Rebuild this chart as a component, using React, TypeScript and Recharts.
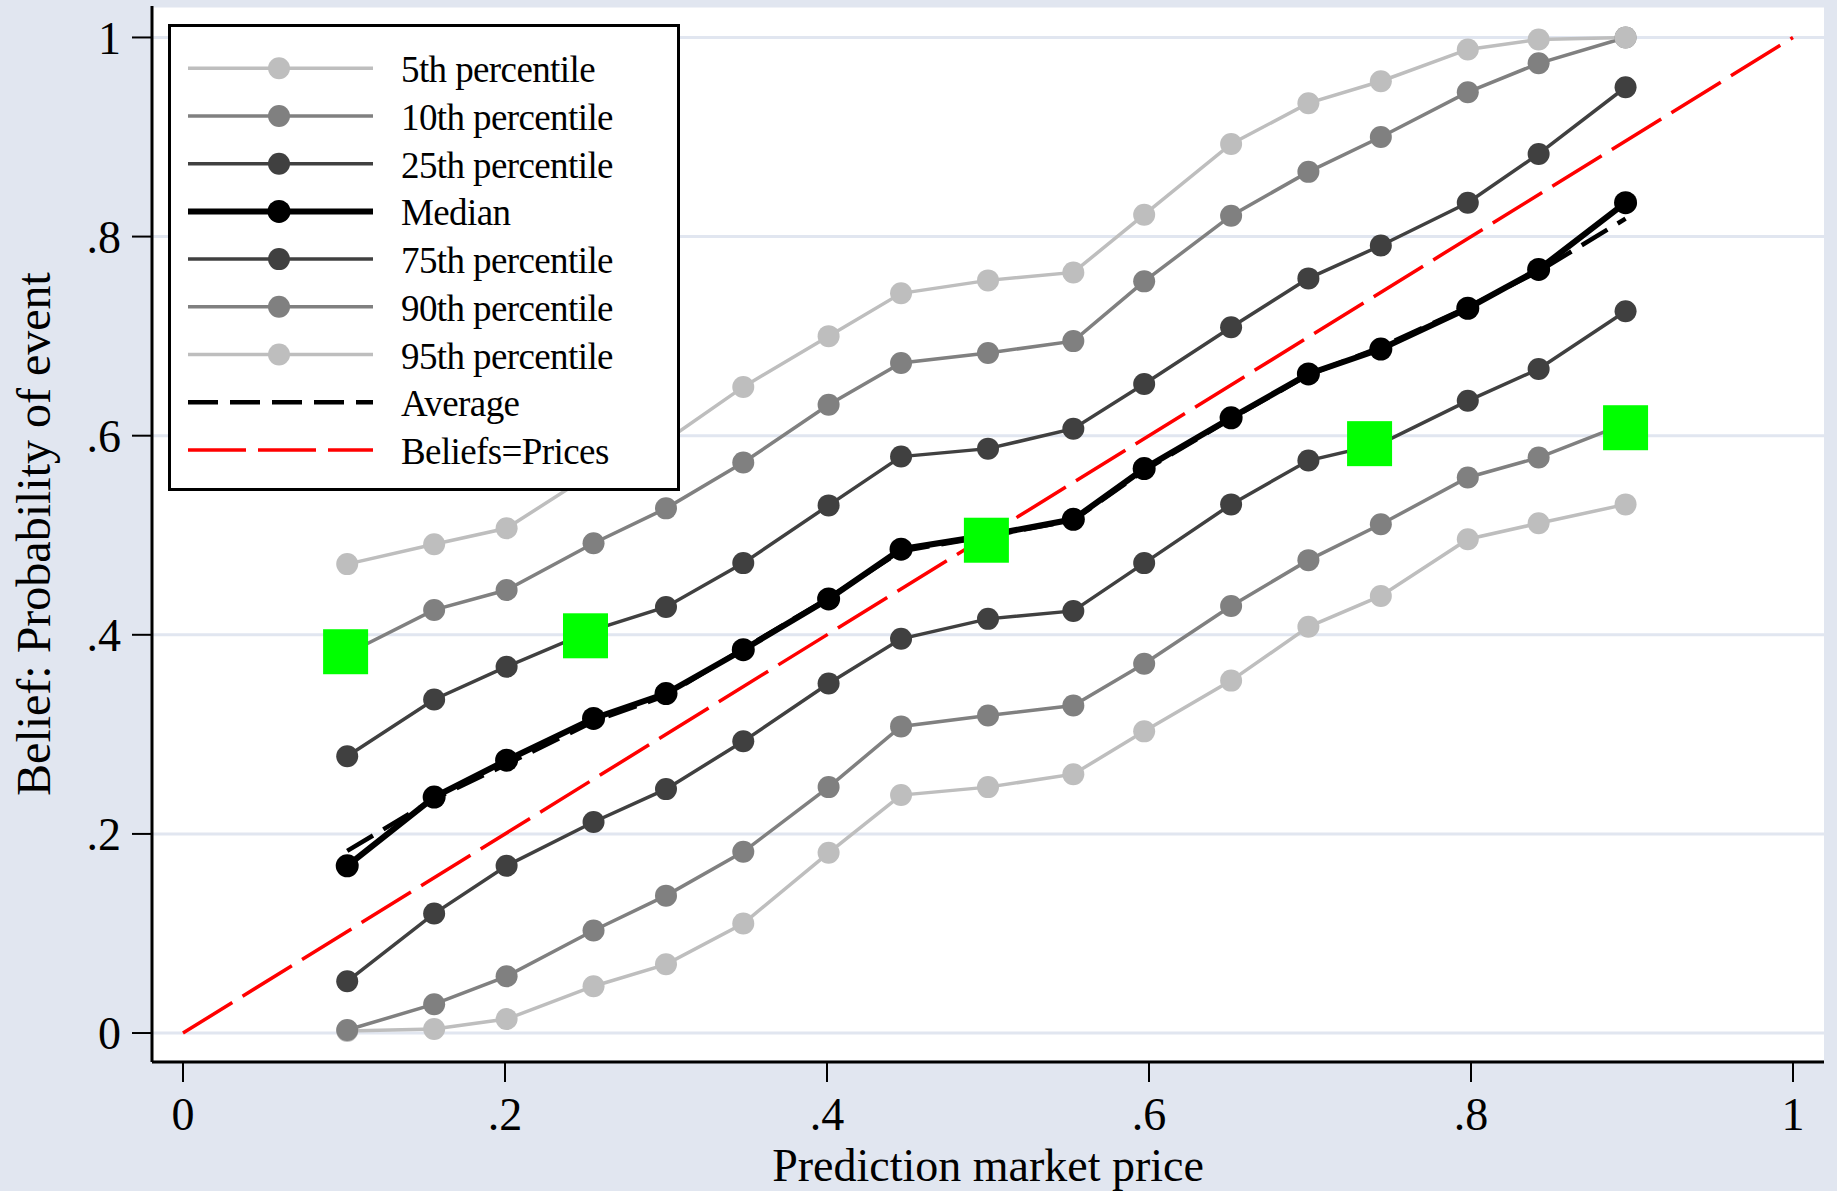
import React from 'react';
import { ComposedChart, Line, XAxis, YAxis, CartesianGrid, Legend } from 'recharts';

// ---- data ----
const prices = [0.102, 0.156, 0.201, 0.255, 0.3, 0.348, 0.401, 0.446, 0.5, 0.553, 0.597, 0.651, 0.699, 0.744, 0.798, 0.842, 0.896];
const p5 = [0.002, 0.004, 0.014, 0.047, 0.069, 0.11, 0.181, 0.239, 0.247, 0.26, 0.303, 0.354, 0.408, 0.439, 0.496, 0.512, 0.531];
const p10 = [0.003, 0.029, 0.057, 0.103, 0.138, 0.182, 0.247, 0.308, 0.319, 0.329, 0.371, 0.429, 0.475, 0.511, 0.558, 0.578, 0.612];
const p25 = [0.052, 0.12, 0.168, 0.212, 0.245, 0.293, 0.351, 0.396, 0.416, 0.424, 0.472, 0.531, 0.575, 0.592, 0.635, 0.667, 0.725];
const median = [0.168, 0.237, 0.274, 0.316, 0.341, 0.385, 0.436, 0.486, 0.5, 0.516, 0.567, 0.618, 0.662, 0.687, 0.728, 0.767, 0.834];
const p75 = [0.278, 0.335, 0.368, 0.405, 0.428, 0.472, 0.53, 0.579, 0.587, 0.607, 0.652, 0.709, 0.758, 0.791, 0.834, 0.883, 0.95];
const p90 = [0.381, 0.425, 0.445, 0.492, 0.527, 0.573, 0.631, 0.673, 0.683, 0.695, 0.755, 0.821, 0.865, 0.9, 0.945, 0.974, 1.0];
const p95 = [0.471, 0.491, 0.507, 0.563, 0.595, 0.649, 0.7, 0.743, 0.756, 0.764, 0.822, 0.893, 0.934, 0.956, 0.988, 0.998, 1.0];
const average = [0.183, 0.235, 0.27, 0.313, 0.339, 0.386, 0.437, 0.484, 0.499, 0.515, 0.565, 0.617, 0.661, 0.689, 0.729, 0.765, 0.818];
const squareX = [0.101, 0.25, 0.499, 0.737, 0.896];
const squareY = [0.383, 0.399, 0.495, 0.592, 0.608];
const diagX = [0, 1];
const diagY = [0, 1];
const axisTicks = [0, 0.2, 0.4, 0.6, 0.8, 1];
const tickLabels = ['0', '.2', '.4', '.6', '.8', '1'];

// ---- styles ----
const BG = '#e1e6f0';
const LIGHT = '#bebebe';
const MID = '#808080';
const DARK = '#404040';
const FONT = '"Liberation Serif", "Times New Roman", serif';

const toPoints = (xs: number[], ys: number[]) => xs.map((x, i) => ({ x, y: ys[i] }));

type Series = { name: string; values: number[]; color: string; width: number; r: number };
const pctSeries: Series[] = [
  { name: '5th percentile', values: p5, color: LIGHT, width: 3.5, r: 11 },
  { name: '10th percentile', values: p10, color: MID, width: 3.5, r: 11 },
  { name: '25th percentile', values: p25, color: DARK, width: 3.5, r: 11 },
  { name: 'Median', values: median, color: '#000000', width: 6, r: 11.5 },
  { name: '75th percentile', values: p75, color: DARK, width: 3.5, r: 11 },
  { name: '90th percentile', values: p90, color: MID, width: 3.5, r: 11 },
  { name: '95th percentile', values: p95, color: LIGHT, width: 3.5, r: 11 },
];

const fmt = (v: number) => {
  const i = axisTicks.findIndex((t) => Math.abs(t - v) < 1e-9);
  return i >= 0 ? tickLabels[i] : String(v);
};

const SquareMarker = (props: any) => {
  const { cx, cy, index } = props;
  if (cx == null || cy == null) return <g key={`sq-${index}`} />;
  return <rect key={`sq-${index}`} x={cx - 22.5} y={cy - 22.5} width={45} height={45} fill="#00ff00" />;
};

const YTitle = (props: any) => {
  const vb = props.viewBox || { x: 0, y: 6, width: 152, height: 1056 };
  const x = vb.x + 50;
  const y = vb.y + vb.height / 2;
  return (
    <text x={x} y={y} transform={`rotate(-90, ${x}, ${y})`} textAnchor="middle" fontSize={48} fontFamily={FONT} fill="#000">
      Belief: Probability of event
    </text>
  );
};

const XTitle = (props: any) => {
  const vb = props.viewBox || { x: 152, y: 1062, width: 1672, height: 129 };
  const x = vb.x + vb.width / 2;
  const y = vb.y + vb.height - 10;
  return (
    <text x={x} y={y} textAnchor="middle" fontSize={46} fontFamily={FONT} fill="#000">
      Prediction market price
    </text>
  );
};

type LegendItem = { label: string; color: string; width: number; r?: number; dash?: string };
const legendItems: LegendItem[] = [
  ...pctSeries.map((s) => ({ label: s.name, color: s.color, width: s.name === 'Median' ? 6 : 3.5, r: s.r })),
  { label: 'Average', color: '#000000', width: 4.5, dash: '30 12' },
  { label: 'Beliefs=Prices', color: '#ff0000', width: 3.5, dash: '58 12' },
];

const LegendBox = () => (
  <svg width={512} height={467} style={{ display: 'block' }}>
    <rect x={1.5} y={1.5} width={509} height={464} fill="#ffffff" stroke="#000" strokeWidth={3} />
    {legendItems.map((it, i) => {
      const cy = 44.3 + i * 47.7;
      return (
        <g key={it.label}>
          <line x1={20} y1={cy} x2={205} y2={cy} stroke={it.color} strokeWidth={it.width} strokeDasharray={it.dash} />
          {it.r ? <circle cx={111} cy={cy} r={it.r} fill={it.color} /> : null}
          <text x={233} y={cy + 14} fontSize={37} fontFamily={FONT} fill="#000" letterSpacing={-0.6}>
            {it.label}
          </text>
        </g>
      );
    })}
  </svg>
);

export default function App() {
  return (
    <div style={{ position: 'absolute', left: 0, top: 0, width: 1837, height: 1191, background: BG }}>
      <ComposedChart width={1837} height={1191} margin={{ top: 6, right: 13, bottom: 0, left: 0 }}>
        <CartesianGrid vertical={false} horizontal stroke={BG} strokeWidth={3} fill="#ffffff" fillOpacity={1} />
        <XAxis
          type="number"
          dataKey="x"
          domain={[-0.01925, 1.01925]}
          allowDataOverflow
          ticks={axisTicks}
          tickFormatter={fmt}
          height={129}
          tickSize={20}
          tickMargin={15}
          axisLine={{ stroke: '#000', strokeWidth: 3 }}
          tickLine={{ stroke: '#000', strokeWidth: 2 }}
          tick={{ fill: '#000', fontSize: 46, fontFamily: FONT }}
          label={{ content: XTitle }}
        />
        <YAxis
          type="number"
          domain={[-0.0291, 1.0316]}
          allowDataOverflow
          ticks={axisTicks}
          tickFormatter={fmt}
          width={152}
          tickSize={20}
          tickMargin={11}
          axisLine={{ stroke: '#000', strokeWidth: 3 }}
          tickLine={{ stroke: '#000', strokeWidth: 2 }}
          tick={{ fill: '#000', fontSize: 46, fontFamily: FONT }}
          label={{ content: YTitle }}
        />
        <Legend
          content={LegendBox}
          layout="vertical"
          align="center"
          verticalAlign="middle"
          wrapperStyle={{ left: 168, top: 24, width: 512, height: 467 }}
        />
        {pctSeries.map((s) => (
          <Line
            key={s.name}
            name={s.name}
            data={toPoints(prices, s.values)}
            dataKey="y"
            type="linear"
            stroke={s.color}
            strokeWidth={s.width}
            dot={{ r: s.r, fill: s.color, stroke: 'none' }}
            activeDot={false}
            isAnimationActive={false}
          />
        ))}
        <Line
          name="Average"
          data={toPoints(prices, average)}
          dataKey="y"
          type="linear"
          stroke="#000"
          strokeWidth={4.5}
          strokeDasharray="30 12"
          dot={false}
          activeDot={false}
          isAnimationActive={false}
        />
        <Line
          name="Beliefs=Prices"
          data={toPoints(diagX, diagY)}
          dataKey="y"
          type="linear"
          stroke="#ff0000"
          strokeWidth={3.5}
          strokeDasharray="58 12"
          dot={false}
          activeDot={false}
          isAnimationActive={false}
        />
        <Line
          name="Squares"
          data={toPoints(squareX, squareY)}
          dataKey="y"
          type="linear"
          stroke="none"
          strokeWidth={0}
          dot={SquareMarker}
          activeDot={false}
          isAnimationActive={false}
        />
      </ComposedChart>
    </div>
  );
}
